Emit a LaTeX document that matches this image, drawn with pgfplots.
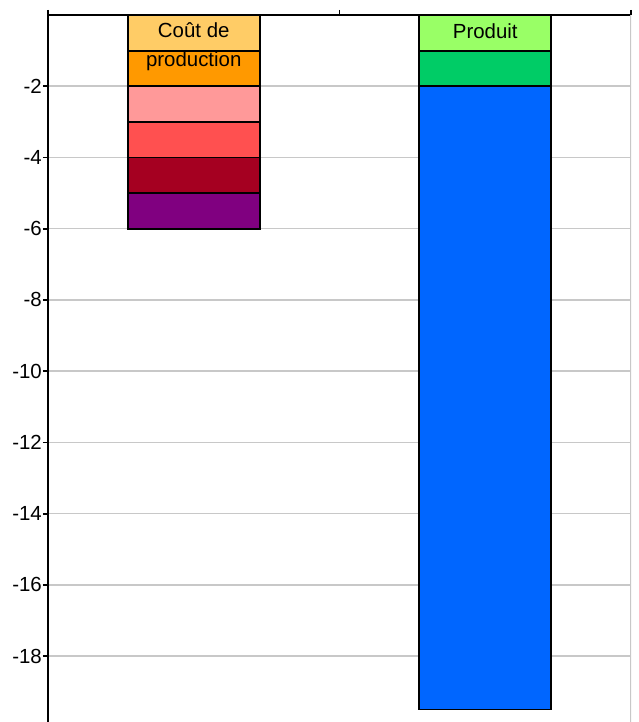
\documentclass[border=0pt]{standalone}
\usepackage{fontspec}
\setmainfont{Liberation Sans}
\usepackage{pgfplots}
\pgfplotsset{compat=1.18}

\definecolor{c1}{HTML}{FFCC66}
\definecolor{c2}{HTML}{FF9900}
\definecolor{c3}{HTML}{FF9999}
\definecolor{c4}{HTML}{FF5050}
\definecolor{c5}{HTML}{A50021}
\definecolor{c6}{HTML}{800080}
\definecolor{p1}{HTML}{99FF66}
\definecolor{p2}{HTML}{00CC66}
\definecolor{p3}{HTML}{0066FF}
\definecolor{gridgray}{HTML}{C8C8C8}

\begin{document}
\begin{tikzpicture}
\begin{axis}[
    name=a,
    scale only axis,
    width=583bp, height=707bp,
    xmin=0, xmax=2,
    ymin=-19.85, ymax=0,
    axis x line*=top,
    axis y line*=left,
    axis line style={line width=2bp, black},
    xtick={0,1,2}, xticklabels={},
    ytick={-18,-16,-14,-12,-10,-8,-6,-4,-2},
    tick align=outside,
    major tick length=5bp,
    tick style={line width=1.8bp, black},
    ymajorgrids,
    grid style={line width=1.6bp, gridgray},
    /pgf/number format/assume math mode=true,
    tick label style={font=\fontsize{20.5}{24}\selectfont},
    yticklabel style={inner xsep=1bp},
    ybar, bar shift=0pt, bar width=0.453,
    every axis plot/.append style={draw=black, line width=1.8bp},
]
% left bar, drawn from the deepest segment up
\addplot[fill=c6] coordinates {(0.5,-6)};
\addplot[fill=c5] coordinates {(0.5,-5)};
\addplot[fill=c4] coordinates {(0.5,-4)};
\addplot[fill=c3] coordinates {(0.5,-3)};
\addplot[fill=c2] coordinates {(0.5,-2)};
\addplot[fill=c1] coordinates {(0.5,-1)};
% right bar
\addplot[fill=p3] coordinates {(1.5,-19.5)};
\addplot[fill=p2] coordinates {(1.5,-2)};
\addplot[fill=p1] coordinates {(1.5,-1)};

\node[anchor=base, font=\fontsize{20.5}{24}\selectfont, yshift=-23bp] at (axis cs:0.5,0) {Coût de};
\node[anchor=base, font=\fontsize{20.5}{24}\selectfont, yshift=-52bp] at (axis cs:0.5,0) {production};
\node[anchor=base, font=\fontsize{20.5}{24}\selectfont, yshift=-24bp] at (axis cs:1.5,0) {Produit};

\draw[gridgray, line width=1.6bp] (rel axis cs:1,0) -- (rel axis cs:1,1);
\end{axis}
\pgfresetboundingbox
\path ([xshift=-48bp,yshift=15bp]a.north west) rectangle ([xshift=8bp]a.south east);
\end{tikzpicture}
\end{document}
